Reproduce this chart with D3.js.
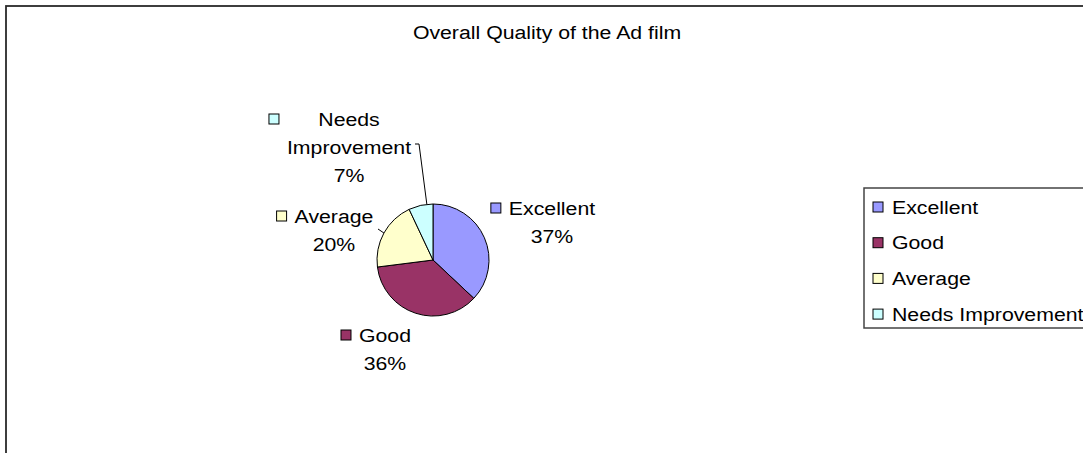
<!DOCTYPE html>
<html>
<head>
<meta charset="utf-8">
<script src="https://cdn.jsdelivr.net/npm/d3@7"></script>
<style>
  html, body { margin: 0; padding: 0; background: #fff; }
  svg { display: block; font-family: "Liberation Sans", Arial, sans-serif; }
</style>
</head>
<body>
<svg id="chart" width="1083" height="453"></svg>
<script>
// Chart data
const title = "Overall Quality of the Ad film";
const categories = ["Excellent", "Good", "Average", "Needs Improvement"];
const values = [37, 36, 20, 7];
const colors = ["#9999FF", "#993366", "#FFFFCC", "#CCFFFF"];
// Wrapped label text for each slice (name lines)
const labelLines = [["Excellent"], ["Good"], ["Average"], ["Needs", "Improvement"]];

// Layout
const W = 1083, H = 453;
const pieCx = 433, pieCy = 260, pieR = 56;
const fontSize = 19, textScaleX = 1.12, lineH = 28;
// Label block centres (relative to pie centre), first line
const labelPos = [
  { dx: 119, dy: -52 },
  { dx: -48, dy: 75 },
  { dx: -99, dy: -44 },
  { dx: -84, dy: -141 }
];

const svg = d3.select("#chart");

// Text helper: wide-set text as in the chart's rendering
function addText(sel, x, y, str, anchor) {
  return sel.append("text")
    .attr("transform", `translate(${x},${y}) scale(${textScaleX},1)`)
    .attr("text-anchor", anchor || "start")
    .attr("dominant-baseline", "central")
    .attr("font-size", fontSize)
    .attr("fill", "#000")
    .text(str);
}

// Outer chart frame
svg.append("rect")
  .attr("x", 6).attr("y", 6)
  .attr("width", W + 20).attr("height", H + 20)
  .attr("fill", "#fff")
  .attr("stroke", "#2a2a2a").attr("stroke-width", 1.8);

// Title
addText(svg, 547, 32, title, "middle");

// Pie
const pie = d3.pie().sort(null).value(d => d.value);
const data = categories.map((c, i) => ({ name: c, value: values[i], color: colors[i] }));
const arcs = pie(data);
const arc = d3.arc().innerRadius(0).outerRadius(pieR);
const total = d3.sum(values);

const g = svg.append("g").attr("transform", `translate(${pieCx},${pieCy})`);
g.selectAll("path.slice")
  .data(arcs)
  .join("path")
  .attr("class", "slice")
  .attr("d", arc)
  .attr("fill", d => d.data.color)
  .attr("stroke", "#000")
  .attr("stroke-width", 1);

// Data labels: key square + name, percentage underneath
const keySize = 10, keyGap = 8;
arcs.forEach((a, i) => {
  const p = labelPos[i];
  const lines = labelLines[i].concat([Math.round(a.data.value / total * 100) + "%"]);
  const lg = g.append("g").attr("transform", `translate(${p.dx},${p.dy})`);
  const nodes = lines.map((s, k) => addText(lg, 0, k * lineH, s, "middle").node());
  const maxW = d3.max(nodes, n => n.getComputedTextLength()) * textScaleX;
  lg.append("rect")
    .attr("x", -maxW / 2 - keyGap - keySize)
    .attr("y", -keySize / 2)
    .attr("width", keySize).attr("height", keySize)
    .attr("fill", a.data.color)
    .attr("stroke", "#000").attr("stroke-width", 1);
});

// Leader lines for labels placed away from their slice
function edgePoint(a, frac) {
  const ang = a.startAngle + (a.endAngle - a.startAngle) * frac;
  return [Math.sin(ang) * pieR, -Math.cos(ang) * pieR];
}
const niEdge = edgePoint(arcs[3], 0.75);
g.append("polyline")
  .attr("points", [[-18, -116], [-14, -116], niEdge].map(p => p.join(",")).join(" "))
  .attr("fill", "none").attr("stroke", "#000").attr("stroke-width", 1);
const avEdge = edgePoint(arcs[2], 0.5);
g.append("line")
  .attr("x1", -55).attr("y1", -31)
  .attr("x2", avEdge[0]).attr("y2", avEdge[1])
  .attr("stroke", "#000").attr("stroke-width", 1);

// Legend
const lx = 864, ly = 188;
svg.append("rect")
  .attr("x", lx).attr("y", ly)
  .attr("width", 260).attr("height", 140)
  .attr("fill", "#fff")
  .attr("stroke", "#444").attr("stroke-width", 1.5);
const leg = svg.append("g").attr("transform", `translate(${lx},${ly})`);
data.forEach((d, i) => {
  const row = leg.append("g").attr("transform", `translate(9,${19 + i * 35.7})`);
  row.append("rect")
    .attr("x", 0).attr("y", -keySize / 2)
    .attr("width", keySize).attr("height", keySize)
    .attr("fill", d.color)
    .attr("stroke", "#000").attr("stroke-width", 1);
  addText(row, 19, 0, d.name, "start");
});
</script>
</body>
</html>
